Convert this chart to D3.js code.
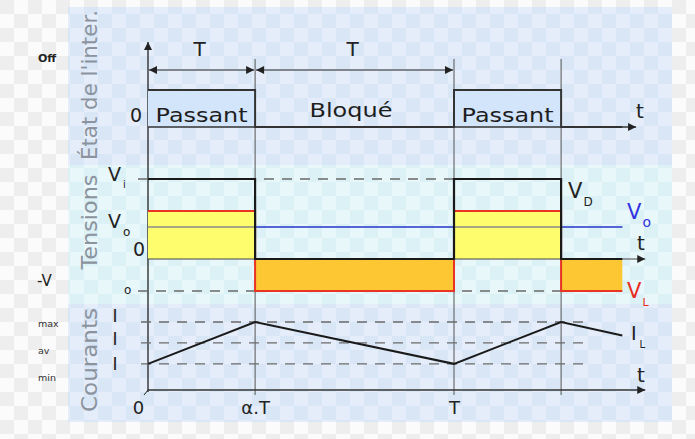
<!DOCTYPE html>
<html><head><meta charset="utf-8">
<script src="https://cdn.jsdelivr.net/npm/d3@7"></script>
<style>body{margin:0;background:#fff;} svg{display:block;font-family:"DejaVu Sans",sans-serif;}</style>
</head><body><svg id="c" width="695" height="439"></svg>
<script>
// ---- data ----
const switchTimes = [0, 0.35, 1, 1.35, 1.55];      // t / T breakpoints
const switchState = [1, 0, 1, 0];                  // switch state per interval
const stateLabels = ["Passant", "Bloqué", "Passant", ""];
const vdValues = [1, 0, 1, 0];                     // V_D per interval (units of Vi)
const vlValues = [0.6, -0.4, 0.6, -0.4];           // V_L per interval
const voValue = 0.4;
const viValue = 1;
const ilValues = [1, 2.6, 1, 2.6, 2.08];           // I_L at breakpoints
const iLevels = [2.6, 1.8, 1];
const iLevelNames = ["max", "av", "min"];
const tickTimes = [0, 0.35, 1];
const tickLabels = ["0", "α.T", "T"];
const periodSpans = [[0, 0.35], [0.35, 1]];
const periodLabels = ["T", "T"];

const svg = d3.select("#c");
const defs = svg.append("defs");
defs.append("marker").attr("id", "arr").attr("viewBox", "0 0 10 10").attr("refX", 10).attr("refY", 5)
  .attr("markerWidth", 10).attr("markerHeight", 8).attr("markerUnits", "userSpaceOnUse")
  .attr("orient", "auto-start-reverse")
  .append("path").attr("d", "M0,0L10,5L0,10Z").attr("fill", "#222");

// checkered backgrounds drawn as plain rects
function checkerRegion(x0, y0, w, h, base, alt, s) {
  const g = svg.append("g");
  g.append("rect").attr("x", x0).attr("y", y0).attr("width", w).attr("height", h).attr("fill", base);
  const cells = [];
  for (let cx = 0; cx * s < 695; cx++) for (let cy = 0; cy * s < 439; cy++) {
    if ((cx + cy) % 2) continue;
    const a = Math.max(cx * s, x0), b = Math.max(cy * s, y0);
    const a2 = Math.min((cx + 1) * s, x0 + w), b2 = Math.min((cy + 1) * s, y0 + h);
    if (a2 > a && b2 > b) cells.push([a, b, a2 - a, b2 - b]);
  }
  g.selectAll("rect.c").data(cells).join("rect").attr("class", "c")
    .attr("x", d => d[0]).attr("y", d => d[1]).attr("width", d => d[2]).attr("height", d => d[3]).attr("fill", alt);
}
checkerRegion(0, 0, 695, 439, "#fbfbfb", "#eeeeee", 14);
checkerRegion(68, 7, 604, 158, "#e4edf9", "#d9e6f6", 14);
checkerRegion(68, 165, 604, 139, "#e8f7fa", "#dcf1f5", 14);
checkerRegion(68, 304, 604, 118, "#e4edf9", "#d9e6f6", 14);

// ---- scales ----
const x = d3.scaleLinear().domain([0, 1]).range([148, 454]);
const yS = d3.scaleLinear().domain([0, 1]).range([127, 90]);
const yV = d3.scaleLinear().domain([0, 1]).range([259, 179]);
const yI = d3.scaleLinear().domain([0, 2.6]).range([390, 322]);
const tEndTop = 1.595, tEnd = 1.625, tDash = 1.428;

const intervals = d3.range(switchState.length).map(i => ({t0: switchTimes[i], t1: switchTimes[i+1], i}));

// ---- rotated panel titles ----
const titles = [["État de l'inter.", 85, 150], ["Tensions", 222, 95], ["Courants", 360, 104]];
titles.forEach(([t, cy, len]) => {
  svg.append("text").attr("transform", `translate(97,${cy}) rotate(-90)`).attr("text-anchor", "middle")
    .attr("font-size", 21).attr("fill", "#8b949e").attr("textLength", len).attr("lengthAdjust", "spacingAndGlyphs").text(t);
});

// ---- vertical grid lines ----
const gridTimes = [switchTimes[1], switchTimes[2], switchTimes[3]];
svg.append("g").selectAll("line").data(gridTimes).join("line")
  .attr("x1", d => x(d)).attr("x2", d => x(d)).attr("y1", 59).attr("y2", 395)
  .attr("stroke", "#555").attr("stroke-width", 1);

// ---- main y axis ----
svg.append("line").attr("x1", x(0)).attr("x2", x(0)).attr("y1", 392).attr("y2", 42)
  .attr("stroke", "#222").attr("stroke-width", 1.3).attr("marker-end", "url(#arr)");
svg.append("line").attr("x1", 144).attr("y1", 395).attr("x2", x(0)).attr("y2", 390).attr("stroke", "#222").attr("stroke-width", 1);

// ---- top panel ----
periodSpans.forEach(([a, b], k) => {
  svg.append("line").attr("x1", x(a) + 1).attr("x2", x(b) - 1).attr("y1", 70).attr("y2", 70)
    .attr("stroke", "#222").attr("stroke-width", 1.2)
    .attr("marker-start", "url(#arr)").attr("marker-end", "url(#arr)");
  svg.append("text").attr("x", (x(a) + x(b)) / 2 - 2).attr("y", 56).attr("text-anchor", "middle")
    .attr("font-size", 20).attr("fill", "#222").text(periodLabels[k]);
});
svg.append("g").selectAll("rect").data(intervals.filter(d => switchState[d.i] === 1)).join("rect")
  .attr("x", d => x(d.t0)).attr("y", yS(1)).attr("width", d => x(d.t1) - x(d.t0)).attr("height", yS(0) - yS(1))
  .attr("fill", "#d3e5fa");
svg.append("line").attr("x1", x(0)).attr("x2", x(tEndTop)).attr("y1", yS(0)).attr("y2", yS(0))
  .attr("stroke", "#333").attr("stroke-width", 1.3).attr("marker-end", "url(#arr)");
const stepPts = (vals, sc) => intervals.flatMap(d => [[x(d.t0), sc(vals[d.i])], [x(d.t1), sc(vals[d.i])]]);
svg.append("path").attr("d", d3.line()(stepPts(switchState, yS))).attr("fill", "none")
  .attr("stroke", "#333").attr("stroke-width", 2);
const labW = {"Passant": 92, "Bloqué": 83};
svg.append("g").selectAll("text").data(intervals.filter(d => stateLabels[d.i])).join("text")
  .attr("x", d => stateLabels[d.i] === "Bloqué" ? 351 : (x(d.t0) + x(d.t1)) / 2)
  .attr("y", d => stateLabels[d.i] === "Bloqué" ? 117 : 122).attr("text-anchor", "middle")
  .attr("font-size", 20).attr("fill", "#1e1e1e")
  .attr("textLength", d => labW[stateLabels[d.i]]).attr("lengthAdjust", "spacingAndGlyphs")
  .text(d => stateLabels[d.i]);
svg.append("text").attr("x", 136).attr("y", 122).attr("text-anchor", "middle").attr("font-size", 19).attr("fill", "#222").text("0");
svg.append("text").attr("x", 640).attr("y", 118).attr("text-anchor", "middle").attr("font-size", 20).attr("fill", "#222").text("t");
svg.append("text").attr("x", 38).attr("y", 62).attr("font-size", 11).attr("font-weight", "bold").attr("fill", "#222").text("Off");

// ---- middle panel ----
const onI = intervals.filter(d => vlValues[d.i] > 0), offI = intervals.filter(d => vlValues[d.i] < 0);
svg.append("g").selectAll("rect").data(onI).join("rect")
  .attr("x", d => x(d.t0)).attr("y", d => yV(vlValues[d.i])).attr("width", d => x(d.t1) - x(d.t0))
  .attr("height", d => yV(0) - yV(vlValues[d.i])).attr("fill", "#fdfd6e");
svg.append("g").selectAll("rect").data(offI).join("rect")
  .attr("x", d => x(d.t0)).attr("y", yV(0)).attr("width", d => x(d.t1) - x(d.t0))
  .attr("height", d => yV(vlValues[d.i]) - yV(0)).attr("fill", "#fdc733");
[viValue, -voValue].forEach(v => {
  svg.append("line").attr("x1", 138).attr("x2", x(switchTimes[3])).attr("y1", yV(v)).attr("y2", yV(v))
    .attr("stroke", "#6a6a6a").attr("stroke-width", 1.3).attr("stroke-dasharray", "10,8");
});
svg.append("line").attr("x1", x(0)).attr("x2", x(switchTimes[4])).attr("y1", yV(voValue)).attr("y2", yV(voValue))
  .attr("stroke", "#8a8a8a").attr("stroke-width", 1.5);
svg.append("g").selectAll("line").data(offI).join("line")
  .attr("x1", d => x(d.t0)).attr("x2", d => x(d.t1)).attr("y1", yV(voValue)).attr("y2", yV(voValue))
  .attr("stroke", "#3d4fe6").attr("stroke-width", 1.6);
svg.append("line").attr("x1", x(0)).attr("x2", x(tEnd)).attr("y1", yV(0)).attr("y2", yV(0))
  .attr("stroke", "#444").attr("stroke-width", 1.2).attr("marker-end", "url(#arr)");
svg.append("path").attr("d", d3.line()(stepPts(vlValues, yV))).attr("fill", "none")
  .attr("stroke", "#ea3323").attr("stroke-width", 2);
svg.append("path").attr("d", d3.line()(stepPts(vdValues, yV))).attr("fill", "none")
  .attr("stroke", "#1a1a1a").attr("stroke-width", 2.2);

function sublabel(xp, yp, main, sub, color, fs, sfs, dx, dy) {
  const t = svg.append("text").attr("x", xp).attr("y", yp).attr("fill", color).attr("font-size", fs);
  t.append("tspan").text(main);
  t.append("tspan").attr("dx", dx).attr("dy", dy).attr("font-size", sfs).text(sub);
}
sublabel(108, 181, "V", "i", "#222", 19, 10, 2, 7);
sublabel(108, 228, "V", "o", "#222", 19, 12, 2, 8);
svg.append("text").attr("x", 133).attr("y", 256).attr("font-size", 19).attr("fill", "#222").text("0");
svg.append("text").attr("x", 37).attr("y", 286).attr("font-size", 15).attr("fill", "#222").text("-V");
svg.append("text").attr("x", 124).attr("y", 294).attr("font-size", 12).attr("fill", "#222").text("o");
sublabel(568, 198, "V", "D", "#222", 21, 12, 1, 8);
sublabel(627, 219, "V", "o", "#3232e0", 21, 14, 1, 8);
sublabel(627, 298, "V", "L", "#e82a22", 21, 11, 1, 8);
svg.append("text").attr("x", 641).attr("y", 250).attr("text-anchor", "middle").attr("font-size", 20).attr("fill", "#222").text("t");

// ---- bottom panel ----
iLevels.forEach(v => {
  svg.append("line").attr("x1", 141).attr("x2", x(tDash)).attr("y1", yI(v)).attr("y2", yI(v))
    .attr("stroke", "#6a6a6a").attr("stroke-width", 1.3).attr("stroke-dasharray", "10,8");
});
svg.append("line").attr("x1", x(0)).attr("x2", x(tEnd)).attr("y1", yI(0)).attr("y2", yI(0))
  .attr("stroke", "#333").attr("stroke-width", 1.3).attr("marker-end", "url(#arr)");
svg.append("path").attr("d", d3.line().x((d, i) => x(switchTimes[i])).y(d => yI(d))(ilValues))
  .attr("fill", "none").attr("stroke", "#1a1a1a").attr("stroke-width", 2);
iLevels.forEach((v, i) => {
  svg.append("text").attr("x", 115).attr("y", yI(v) + [0, 2, 6][i]).attr("text-anchor", "middle")
    .attr("font-size", 17).attr("fill", "#222").text("I");
  svg.append("text").attr("x", 38).attr("y", [327, 354, 381][i]).attr("font-size", 9.5).attr("fill", "#333").text(iLevelNames[i]);
});
sublabel(631, 340, "I", "L", "#222", 19, 10, 3, 8);
svg.append("text").attr("x", 641).attr("y", 382).attr("text-anchor", "middle").attr("font-size", 20).attr("fill", "#222").text("t");

const xAxis = d3.axisBottom(x).tickValues(tickTimes).tickFormat((d, i) => tickLabels[i]).tickSize(0).tickPadding(8);
const ga = svg.append("g").attr("transform", "translate(0,396)").call(xAxis);
ga.select(".domain").remove();
ga.selectAll("text").attr("font-size", 18).attr("fill", "#222").attr("font-family", "DejaVu Sans, sans-serif").attr("dy", "0.55em");
ga.selectAll(".tick").filter(d => d === 0).select("text").attr("dx", -10);
</script></body></html>
